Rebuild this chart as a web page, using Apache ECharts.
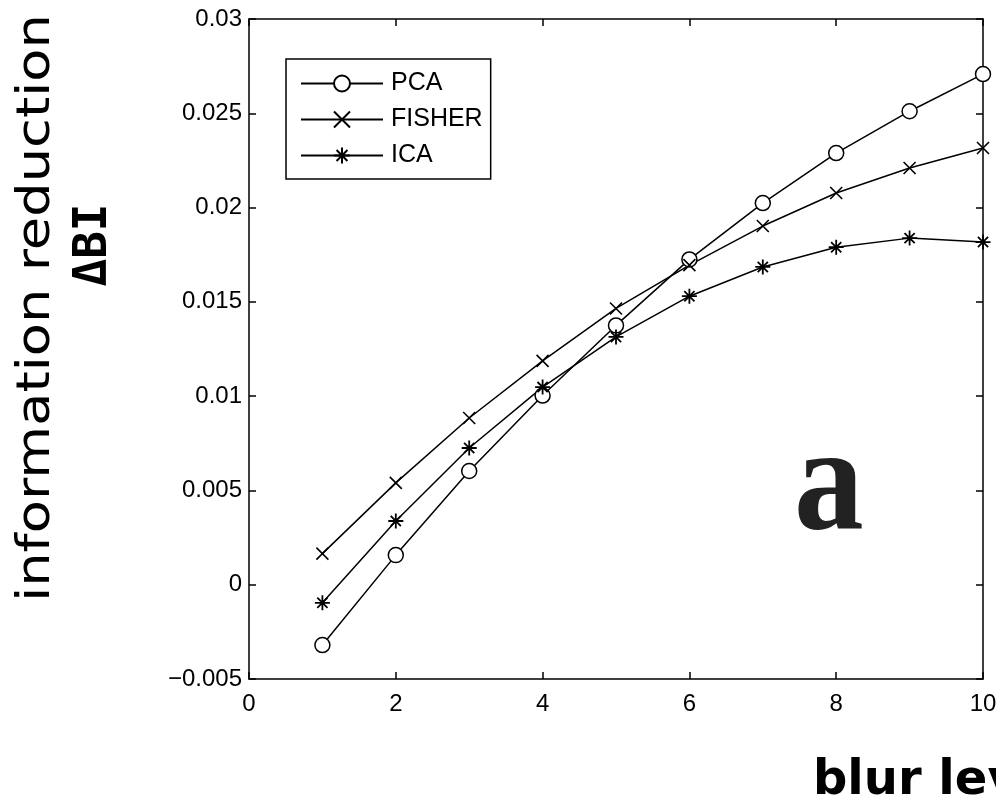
<!DOCTYPE html>
<html><head><meta charset="utf-8">
<script src="https://cdn.jsdelivr.net/npm/echarts@6/dist/echarts.min.js"></script>
<style>html,body{margin:0;padding:0;background:#fff}#c{width:996px;height:804px}</style>
</head><body><div id="c"></div>
<script>
const blurLevels = [1,2,3,4,5,6,7,8,9,10];
const pcaValues = [-0.0032,0.00157,0.00603,0.01003,0.01375,0.01725,0.02024,0.02289,0.02511,0.02708];
const fisherValues = [0.00165,0.0054,0.00884,0.01187,0.01465,0.01695,0.01902,0.02077,0.0221,0.02316];
const icaValues = [-0.00096,0.00338,0.00725,0.01048,0.01314,0.0153,0.01685,0.0179,0.01838,0.01817];
const xTicks = {min:0,max:10,interval:2};
const yTicks = {min:-0.005,max:0.03,interval:0.005};

const chart = echarts.init(document.getElementById('c'));
const fmtY = v => { const s = String(+(+v).toFixed(3)); return s.replace('-', '\u2212'); };
const pair = arr => blurLevels.map((x,i)=>[x,arr[i]]);
const xSym = 'path://M0,0L10,10M10,0L0,10';
const starSym = 'path://M5,0L5,10M0,5L10,5M1.6,1.6L8.4,8.4M8.4,1.6L1.6,8.4';
const lineBase = {type:'line', lineStyle:{color:'#000',width:1.5}, animation:false, z:3};
const tickFont = {fontFamily:'Liberation Sans, Arial', fontSize:24, color:'#000'};
const axLine = {show:true, onZero:false, lineStyle:{color:'#000',width:1.5}};
const axTick = {show:true, inside:true, length:7, lineStyle:{color:'#000',width:1.5}};
chart.setOption({
  backgroundColor:'#fff',
  animation:false,
  grid:{left:249,top:19,right:13,bottom:125,show:false,containLabel:false,outerBoundsMode:'none'},
  legend:{
    left:286, top:59, orient:'vertical', itemWidth:82, itemHeight:20, itemGap:11,
    padding:[12,8,11,14], borderColor:'#000', borderWidth:1.5, backgroundColor:'#fff',
    textStyle:{fontFamily:'Liberation Sans, Arial', fontSize:25, lineHeight:20, color:'#000', padding:[0,0,0,3]},
    data:['PCA','FISHER','ICA']
  },
  xAxis:[
    {type:'value', min:xTicks.min, max:xTicks.max, interval:xTicks.interval, position:'bottom',
     axisLine:axLine, axisTick:axTick,
     axisLabel:Object.assign({margin:13},tickFont), splitLine:{show:false}},
    {type:'value', min:xTicks.min, max:xTicks.max, interval:xTicks.interval, position:'top',
     axisLine:axLine, axisTick:axTick,
     axisLabel:{show:false}, splitLine:{show:false}}
  ],
  yAxis:[
    {type:'value', min:yTicks.min, max:yTicks.max, interval:yTicks.interval, position:'left',
     axisLine:axLine, axisTick:axTick,
     axisLabel:Object.assign({margin:7,formatter:fmtY},tickFont), splitLine:{show:false}},
    {type:'value', min:yTicks.min, max:yTicks.max, interval:yTicks.interval, position:'right',
     axisLine:axLine, axisTick:axTick,
     axisLabel:{show:false}, splitLine:{show:false}}
  ],
  series:[
    Object.assign({}, lineBase, {name:'PCA', data:pair(pcaValues), symbol:'circle', symbolSize:15,
      itemStyle:{color:'#fff',borderColor:'#000',borderWidth:1.5}}),
    Object.assign({}, lineBase, {name:'FISHER', data:pair(fisherValues), symbol:xSym, symbolSize:12,
      itemStyle:{color:'rgba(0,0,0,0)',borderColor:'#000',borderWidth:1.6}}),
    Object.assign({}, lineBase, {name:'ICA', data:pair(icaValues), symbol:starSym, symbolSize:15,
      itemStyle:{color:'rgba(0,0,0,0)',borderColor:'#000',borderWidth:1.8}})
  ],
  graphic:[
    {type:'text', x:37, y:308, rotation:Math.PI/2, scaleX:1.18, z:10,
     style:{text:'information reduction', font:'normal 46px "DejaVu Sans"', fill:'#000', textAlign:'center', textVerticalAlign:'middle'}},
    {type:'text', x:94, y:245, rotation:Math.PI/2, z:10,
     style:{text:'\u0394BI', font:'bold 46px "DejaVu Sans Mono"', fill:'#000', textAlign:'center', textVerticalAlign:'middle'}},
    {type:'text', x:794, y:564, scaleX:0.93, z:10,
     style:{text:'a', font:'bold 150px "Liberation Serif"', fill:'#222', textAlign:'left', textVerticalAlign:'bottom'}},
    {type:'text', x:813, y:806, z:10,
     style:{text:'blur level', font:'bold 48px "DejaVu Sans"', fill:'#000', textAlign:'left', textVerticalAlign:'bottom'}}
  ]
});
</script></body></html>
